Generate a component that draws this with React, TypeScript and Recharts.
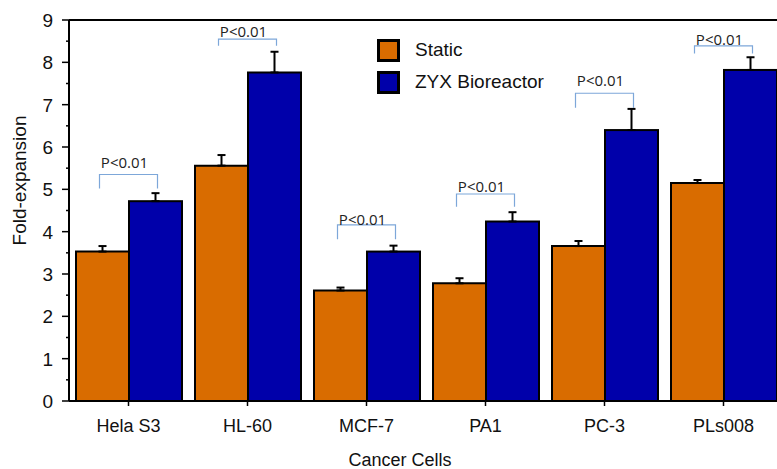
import React from "react";
import { BarChart, Bar, XAxis, YAxis, ErrorBar, Legend, Label } from "recharts";

const categories = ["Hela S3", "HL-60", "MCF-7", "PA1", "PC-3", "PLs008"];
const staticValues = [3.53, 5.56, 2.61, 2.78, 3.66, 5.15];
const staticErrors = [0.13, 0.25, 0.07, 0.12, 0.12, 0.07];
const bioreactorValues = [4.72, 7.76, 3.53, 4.24, 6.4, 7.82];
const bioreactorErrors = [0.19, 0.49, 0.14, 0.22, 0.5, 0.3];

// significance brackets (in y-axis units)
const sigLabels = ["P<0.01", "P<0.01", "P<0.01", "P<0.01", "P<0.01", "P<0.01"];
const bracketTop = [5.35, 8.55, 4.16, 4.89, 7.27, 8.39];
const bracketLeg = [5.02, 8.39, 3.82, 4.59, 6.93, 8.21];
const sigTextBase = [5.5, 8.61, 4.16, 4.94, 7.44, 8.41];

const yTicks = [0, 0.5, 1, 1.5, 2, 2.5, 3, 3.5, 4, 4.5, 5, 5.5, 6, 6.5, 7, 7.5, 8, 8.5, 9];

const ORANGE = "#d96c00";
const BLUE = "#0000aa";
const FONT = "'Liberation Sans', Arial, sans-serif";

const data = categories.map((name, i) => ({
  name,
  static: staticValues[i],
  staticErr: [0, staticErrors[i]],
  zyx: bioreactorValues[i],
  zyxErr: [0, bioreactorErrors[i]],
  sig: sigLabels[i],
  top: bracketTop[i],
  leg: bracketLeg[i],
  textBase: sigTextBase[i],
}));

// blue bar plus the P-value bracket spanning the pair
function BioreactorBar(props: any) {
  const { x, y, width, height, payload } = props;
  const bottom = y + height;
  const ppu = height / payload.zyx;
  const toY = (v: number) => bottom - v * ppu;
  const left = x - width / 2 - 3;
  const right = x + width / 2 + 2;
  return (
    <g>
      <rect x={x} y={y} width={width} height={height} fill={BLUE} stroke="#000" strokeWidth={2} />
      <path
        d={`M${left},${toY(payload.leg)}V${toY(payload.top)}H${right}V${toY(payload.leg)}`}
        fill="none"
        stroke="#7da7d9"
        strokeWidth={1.2}
      />
      <text
        x={(left + right) / 2 - 4}
        y={toY(payload.textBase)}
        textAnchor="middle"
        fontFamily="'Open Sans', sans-serif"
        fontSize={15}
        fill="#222"
      >
        {payload.sig}
      </text>
    </g>
  );
}

function YTick(props: any) {
  const { x, y, payload } = props;
  const axisX = x + 16;
  const major = Number.isInteger(payload.value);
  return (
    <g>
      <line x1={axisX - (major ? 7 : 3)} x2={axisX} y1={y} y2={y} stroke="#000" strokeWidth={1.5} />
      {major && (
        <text x={x} y={y + 7} textAnchor="end" fontFamily={FONT} fontSize={19} fill="#111">
          {payload.value}
        </text>
      )}
    </g>
  );
}

function LegendContent(props: any) {
  const items = props.payload || [];
  return (
    <div style={{ fontFamily: FONT, fontSize: 19, color: "#111" }}>
      {items.map((item: any) => (
        <div key={item.value} style={{ display: "flex", alignItems: "center", height: 32 }}>
          <div
            style={{
              width: 17,
              height: 17,
              border: "3px solid #000",
              background: item.color,
            }}
          />
          <span style={{ marginLeft: 15 }}>{item.value}</span>
        </div>
      ))}
    </div>
  );
}

export default function App() {
  return (
    <div
      style={{
        position: "fixed",
        left: 0,
        top: 0,
        width: 777,
        height: 469,
        overflow: "hidden",
        background: "#fff",
      }}
    >
      <BarChart
        width={785}
        height={469}
        data={data}
        margin={{ top: 0, right: 2, left: 0, bottom: 0 }}
        barCategoryGap={7}
        barGap={0}
      >
        <XAxis
          dataKey="name"
          height={68}
          tickSize={5}
          tickMargin={13}
          axisLine={{ stroke: "#000", strokeWidth: 2 }}
          tickLine={{ stroke: "#000", strokeWidth: 1.5 }}
          tick={{ fill: "#111", fontSize: 18, fontFamily: FONT }}
          label={
            <Label
              content={(p: any) => {
                const vb = p.viewBox || { x: 69, y: 401, width: 714, height: 68 };
                return (
                  <text
                    x={vb.x + vb.width / 2 - 26}
                    y={vb.y + vb.height - 3}
                    textAnchor="middle"
                    fontFamily={FONT}
                    fontSize={18}
                    fill="#111"
                  >
                    Cancer Cells
                  </text>
                );
              }}
            />
          }
        />
        <XAxis
          dataKey="name"
          xAxisId="top"
          orientation="top"
          height={20}
          tickSize={5}
          tick={false}
          axisLine={{ stroke: "#000", strokeWidth: 2 }}
          tickLine={{ stroke: "#000", strokeWidth: 1.5 }}
        />
        <YAxis
          width={69}
          domain={[0, 9]}
          ticks={yTicks}
          interval={0}
          tickSize={7}
          tickMargin={9}
          tickLine={false}
          axisLine={{ stroke: "#000", strokeWidth: 2 }}
          tick={<YTick />}
          label={
            <Label
              content={(p: any) => {
                const vb = p.viewBox || { x: 0, y: 20, width: 69, height: 381 };
                const cx = vb.x + 19.5;
                const cy = vb.y + vb.height / 2 - 30;
                return (
                  <text
                    x={cx}
                    y={cy}
                    transform={`rotate(-90, ${cx}, ${cy})`}
                    textAnchor="middle"
                    dominantBaseline="central"
                    fontFamily={FONT}
                    fontSize={19}
                    fill="#111"
                  >
                    Fold-expansion
                  </text>
                );
              }}
            />
          }
        />
        <Legend
          layout="vertical"
          align="center"
          verticalAlign="middle"
          wrapperStyle={{ left: 377, top: 34, width: "auto" }}
          content={<LegendContent />}
        />
        <Bar
          dataKey="static"
          name="Static"
          fill={ORANGE}
          stroke="#000"
          strokeWidth={2}
          isAnimationActive={false}
        >
          <ErrorBar dataKey="staticErr" width={4} stroke="#000" strokeWidth={2} direction="y" />
        </Bar>
        <Bar
          dataKey="zyx"
          name="ZYX Bioreactor"
          fill={BLUE}
          stroke="#000"
          strokeWidth={2}
          shape={<BioreactorBar />}
          isAnimationActive={false}
        >
          <ErrorBar dataKey="zyxErr" width={4} stroke="#000" strokeWidth={2} direction="y" />
        </Bar>
      </BarChart>
    </div>
  );
}
